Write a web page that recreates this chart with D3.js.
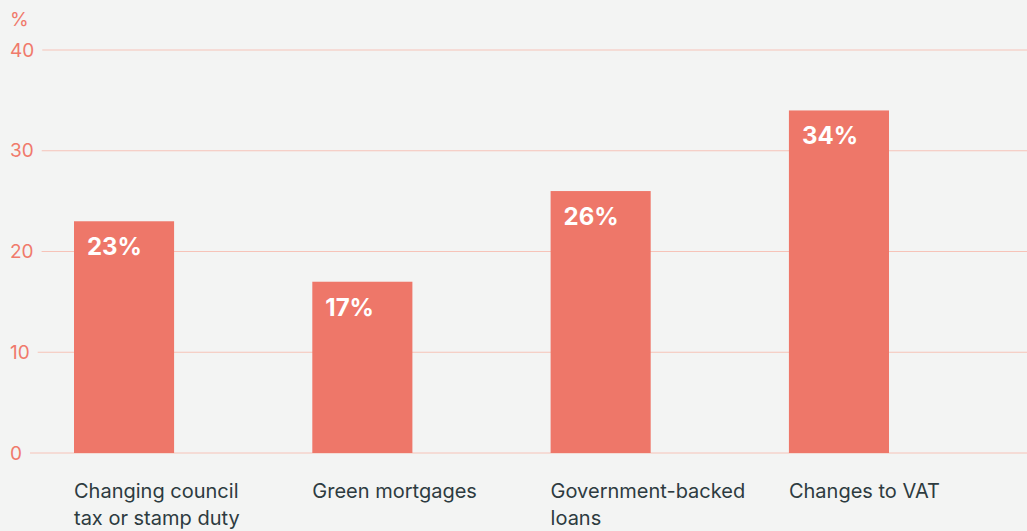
<!DOCTYPE html>
<html>
<head>
<meta charset="utf-8">
<script src="https://cdn.jsdelivr.net/npm/d3@7"></script>
<style>
  html, body { margin: 0; padding: 0; background: #f3f4f3; }
  svg { display: block; font-family: Inter, "Noto Sans", sans-serif; }
</style>
</head>
<body>
<div id="chart"></div>
<script>
// ── Data ─────────────────────────────────────────────────────
const categories = [
  ['Changing council', 'tax or stamp duty'],
  ['Green mortgages'],
  ['Government-backed', 'loans'],
  ['Changes to VAT'],
];
const values = [23, 17, 26, 34];
const yTicks = [0, 10, 20, 30, 40];

// ── Tokens ───────────────────────────────────────────────────
const BAR = '#ee7769';
const GRID = '#f6c3b8';
const TICK_TEXT = '#f07a6b';
const CAT_TEXT = '#2d3b3f';

const width = 1027, height = 531;
const margin = { top: 50, bottom: 78, left: 74, right: 138 };

const svg = d3.select('#chart').append('svg')
  .attr('width', width)
  .attr('height', height);

const y = d3.scaleLinear()
  .domain([0, 40])
  .range([height - margin.bottom, margin.top]);

const x = d3.scaleBand()
  .domain(d3.range(values.length))
  .range([margin.left, width - margin.right])
  .paddingInner(0.58)
  .paddingOuter(0);

// ── Grid + y labels ──────────────────────────────────────────
const tickG = svg.append('g');
yTicks.forEach(t => {
  const label = tickG.append('text')
    .attr('x', 10)
    .attr('y', y(t))
    .attr('dy', '0.35em')
    .attr('fill', TICK_TEXT)
    .attr('font-size', 19)
    .text(t);
  const bb = label.node().getBBox();
  tickG.insert('line', 'text')
    .attr('x1', bb.x + bb.width + 8)
    .attr('x2', width)
    .attr('y1', y(t))
    .attr('y2', y(t))
    .attr('stroke', GRID)
    .attr('stroke-width', 1);
});

svg.append('text')
  .attr('x', 10)
  .attr('y', 26)
  .attr('fill', TICK_TEXT)
  .attr('font-size', 19)
  .text('%');

// ── Bars ─────────────────────────────────────────────────────
svg.append('g').selectAll('rect')
  .data(values)
  .join('rect')
  .attr('x', (d, i) => x(i))
  .attr('y', d => y(d))
  .attr('width', x.bandwidth())
  .attr('height', d => y(0) - y(d))
  .attr('fill', BAR);

svg.append('g').selectAll('text')
  .data(values)
  .join('text')
  .attr('x', (d, i) => x(i) + 13)
  .attr('y', d => y(d) + 34)
  .attr('fill', '#fff')
  .attr('font-size', 24)
  .attr('font-weight', 700)
  .text(d => d + '%');

// ── Category labels ──────────────────────────────────────────
const catG = svg.append('g');
categories.forEach((lines, i) => {
  const t = catG.append('text')
    .attr('x', x(i))
    .attr('y', 498)
    .attr('fill', CAT_TEXT)
    .attr('font-size', 20);
  lines.forEach((ln, j) => {
    t.append('tspan')
      .attr('x', x(i))
      .attr('dy', j === 0 ? 0 : 27)
      .text(ln);
  });
});
</script>
</body>
</html>
